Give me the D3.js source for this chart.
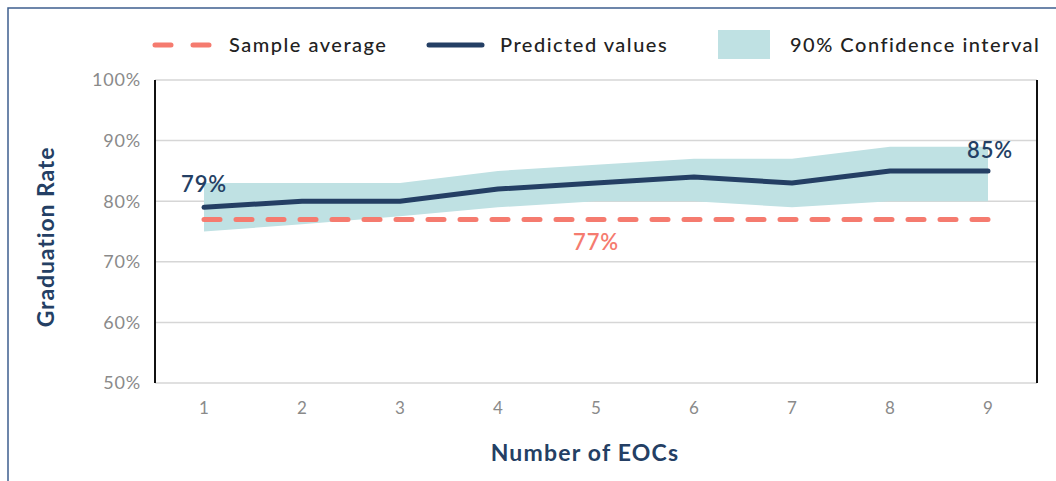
<!DOCTYPE html>
<html>
<head>
<meta charset="utf-8">
<script src="https://cdn.jsdelivr.net/npm/d3@7"></script>
<style>
  html, body { margin: 0; padding: 0; background: #fff; }
  svg { display: block; }
</style>
</head>
<body>
<svg id="chart" width="1056" height="481"></svg>
<script>
const categories = [1, 2, 3, 4, 5, 6, 7, 8, 9];
const predicted = [79, 80, 80, 82, 83, 84, 83, 85, 85];
const ciLower = [75, 76.2, 77.5, 79, 80, 80, 79, 80, 80];
const ciUpper = [83, 83, 83, 85, 86, 87, 87, 89, 89];
const sampleAverage = 77;
const yTicks = [50, 60, 70, 80, 90, 100];
const legendLabels = ["Sample average", "Predicted values", "90% Confidence interval"];
const xTitle = "Number of EOCs";
const yTitle = "Graduation Rate";

const navy = "#243f64";
const salmon = "#f57b6f";
const band = "#bfe1e3";
const font = "Lato, 'Open Sans', sans-serif";

const svg = d3.select("#chart");

// frame
svg.append("rect").attr("x", 8).attr("y", 8).attr("width", 1100).attr("height", 520)
  .attr("fill", "none").attr("stroke", "#3e5f8e").attr("stroke-width", 1.5);

const plotL = 155, plotR = 1037, plotT = 80, plotB = 383;
const x = d3.scalePoint().domain(categories).range([plotL, plotR]).padding(0.5);
const y = d3.scaleLinear().domain([50, 100]).range([plotB, plotT]);

// gridlines
svg.append("g").selectAll("line").data(yTicks).join("line")
  .attr("x1", plotL).attr("x2", plotR)
  .attr("y1", d => y(d)).attr("y2", d => y(d))
  .attr("stroke", "#d6d6d6").attr("stroke-width", 1.5);

// y tick labels
svg.append("g").selectAll("text").data(yTicks).join("text")
  .attr("x", 141).attr("y", d => y(d)).attr("dy", "0.35em")
  .attr("text-anchor", "end")
  .attr("font-family", font).attr("font-size", 18).attr("fill", "#8a8a8a")
  .attr("letter-spacing", 0.8)
  .text(d => d + "%");

// x tick labels
svg.append("g").selectAll("text").data(categories).join("text")
  .attr("x", d => x(d)).attr("y", 408).attr("dy", "0.35em")
  .attr("text-anchor", "middle")
  .attr("font-family", font).attr("font-size", 17).attr("fill", "#8a8a8a")
  .text(d => d);

// confidence band
const area = d3.area()
  .x((d, i) => x(categories[i]))
  .y0((d, i) => y(ciLower[i]))
  .y1((d, i) => y(ciUpper[i]));
svg.append("path").datum(categories).attr("d", area).attr("fill", band);

// sample average dashed line
svg.append("line")
  .attr("x1", x(categories[0])).attr("x2", x(categories[categories.length - 1]))
  .attr("y1", y(sampleAverage)).attr("y2", y(sampleAverage))
  .attr("stroke", salmon).attr("stroke-width", 5)
  .attr("stroke-dasharray", "16 16").attr("stroke-linecap", "round");

// predicted line
const line = d3.line().x((d, i) => x(categories[i])).y(d => y(d));
svg.append("path").datum(predicted).attr("d", line)
  .attr("fill", "none").attr("stroke", navy).attr("stroke-width", 5)
  .attr("stroke-linecap", "round").attr("stroke-linejoin", "round");

// axes lines
svg.append("line").attr("x1", plotL).attr("x2", plotL).attr("y1", plotT).attr("y2", plotB)
  .attr("stroke", "#111").attr("stroke-width", 2);
svg.append("line").attr("x1", plotR).attr("x2", plotR).attr("y1", plotT).attr("y2", plotB)
  .attr("stroke", "#111").attr("stroke-width", 2);

// data labels
function dataLabel(px, py, txt, color) {
  svg.append("text").attr("x", px).attr("y", py)
    .attr("text-anchor", "middle").attr("font-family", font).attr("font-size", 22)
    .attr("font-weight", 600).attr("fill", color).attr("letter-spacing", 0.8)
    .text(txt);
}
dataLabel(x(1), y(predicted[0]) - 15, predicted[0] + "%", navy);
dataLabel(x(9) + 2, y(predicted[8]) - 13, predicted[8] + "%", navy);
dataLabel(x(5), y(sampleAverage) + 31, sampleAverage + "%", salmon);

// axis titles
svg.append("text").attr("x", 585).attr("y", 461).attr("text-anchor", "middle")
  .attr("font-family", font).attr("font-size", 23).attr("font-weight", 700)
  .attr("letter-spacing", 1.2)
  .attr("fill", navy).text(xTitle);
svg.append("text").attr("transform", "translate(54,237) rotate(-90)")
  .attr("text-anchor", "middle")
  .attr("font-family", font).attr("font-size", 23).attr("font-weight", 700)
  .attr("letter-spacing", 0.9)
  .attr("fill", navy).text(yTitle);

// legend
const lg = svg.append("g");
const ly = 45;
lg.append("line").attr("x1", 155).attr("x2", 211).attr("y1", ly).attr("y2", ly)
  .attr("stroke", salmon).attr("stroke-width", 5).attr("stroke-linecap", "round")
  .attr("stroke-dasharray", "16 22");
lg.append("line").attr("x1", 429).attr("x2", 482).attr("y1", ly).attr("y2", ly)
  .attr("stroke", navy).attr("stroke-width", 5).attr("stroke-linecap", "round");
lg.append("rect").attr("x", 718).attr("y", 30).attr("width", 52).attr("height", 29)
  .attr("fill", band);
const legX = [229, 500, 790];
lg.selectAll("text.lbl").data(legendLabels).join("text").attr("class", "lbl")
  .attr("x", (d, i) => legX[i]).attr("y", ly).attr("dy", "0.35em")
  .attr("font-family", font).attr("font-size", 20).attr("font-weight", 500)
  .attr("fill", "#222").attr("letter-spacing", 1.5)
  .text(d => d);
</script>
</body>
</html>
